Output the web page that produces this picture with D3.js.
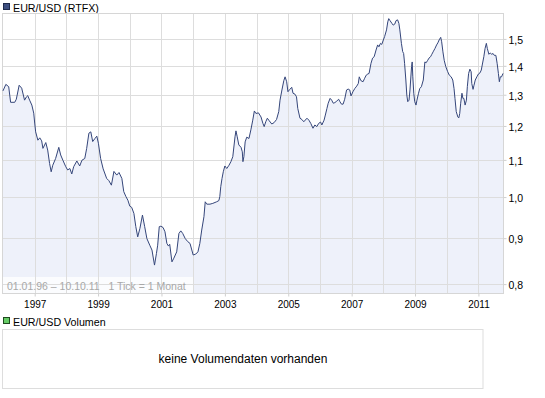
<!DOCTYPE html>
<html>
<head>
<meta charset="utf-8">
<script src="https://cdn.jsdelivr.net/npm/d3@7"></script>
<style>
  body { margin: 0; background: #fff; }
  svg text { font-family: "Liberation Sans", Arial, sans-serif; }
</style>
</head>
<body>
<div id="chart"></div>
<script>
// chart size - keep layout numbers up here
var width = 545,
    height = 398;

// plot box of the price panel
var plotLeft = 3, plotRight = 503, plotTop = 13, plotBottom = 293;

// EUR/USD (decimal year, rate)
var years = [
  1996.00, 1996.09, 1996.18, 1996.24, 1996.37, 1996.42, 1996.51, 1996.59, 1996.68, 1996.74,
  1996.78, 1996.84, 1996.91, 1996.97, 1997.00, 1997.03, 1997.10, 1997.16, 1997.22, 1997.26,
  1997.35, 1997.41, 1997.47, 1997.52, 1997.57, 1997.66, 1997.76, 1997.82, 1997.89, 1997.98,
  1998.04, 1998.11, 1998.17, 1998.23, 1998.33, 1998.42, 1998.49, 1998.58, 1998.64, 1998.71,
  1998.77, 1998.83, 1998.90, 1998.96, 1999.01, 1999.08, 1999.16, 1999.27, 1999.34, 1999.42,
  1999.50, 1999.59, 1999.66, 1999.75, 1999.81, 1999.88, 1999.94, 2000.00, 2000.06, 2000.13,
  2000.19, 2000.25, 2000.32, 2000.40, 2000.47, 2000.54, 2000.63, 2000.70, 2000.78, 2000.84,
  2000.88, 2000.93, 2000.98, 2001.05, 2001.11, 2001.17, 2001.22, 2001.26, 2001.33, 2001.39,
  2001.48, 2001.55, 2001.61, 2001.67, 2001.75, 2001.83, 2001.90, 2002.00, 2002.08, 2002.15,
  2002.21, 2002.27, 2002.34, 2002.38, 2002.43, 2002.53, 2002.62, 2002.74, 2002.81, 2002.84,
  2002.87, 2002.91, 2002.95, 2003.00, 2003.06, 2003.13, 2003.19, 2003.25, 2003.32, 2003.35,
  2003.39, 2003.44, 2003.51, 2003.55, 2003.57, 2003.60, 2003.64, 2003.69, 2003.76, 2003.82,
  2003.88, 2003.93, 2003.98, 2004.06, 2004.14, 2004.20, 2004.24, 2004.29, 2004.34, 2004.40,
  2004.48, 2004.55, 2004.63, 2004.70, 2004.74, 2004.80, 2004.86, 2004.90, 2004.95, 2004.99,
  2005.05, 2005.11, 2005.15, 2005.21, 2005.26, 2005.30, 2005.37, 2005.43, 2005.49, 2005.59,
  2005.65, 2005.71, 2005.78, 2005.84, 2005.90, 2005.96, 2006.02, 2006.06, 2006.13, 2006.17,
  2006.22, 2006.26, 2006.32, 2006.37, 2006.42, 2006.47, 2006.53, 2006.59, 2006.63, 2006.68,
  2006.73, 2006.78, 2006.84, 2006.89, 2006.94, 2006.98, 2007.04, 2007.10, 2007.16, 2007.21,
  2007.24, 2007.29, 2007.36, 2007.41, 2007.46, 2007.51, 2007.55, 2007.61, 2007.66, 2007.71,
  2007.77, 2007.82, 2007.86, 2007.91, 2007.95, 2008.00, 2008.04, 2008.10, 2008.14, 2008.17,
  2008.21, 2008.27, 2008.31, 2008.36, 2008.40, 2008.45, 2008.49, 2008.52, 2008.57, 2008.61,
  2008.64, 2008.67, 2008.71, 2008.74, 2008.77, 2008.81, 2008.84, 2008.89, 2008.91, 2008.93,
  2008.96, 2008.99, 2009.03, 2009.06, 2009.11, 2009.15, 2009.20, 2009.26, 2009.31, 2009.35,
  2009.40, 2009.44, 2009.49, 2009.53, 2009.57, 2009.63, 2009.68, 2009.72, 2009.76, 2009.81,
  2009.84, 2009.88, 2009.92, 2009.97, 2010.03, 2010.08, 2010.14, 2010.19, 2010.23, 2010.26,
  2010.30, 2010.35, 2010.38, 2010.41, 2010.44, 2010.48, 2010.51, 2010.54, 2010.58, 2010.62,
  2010.65, 2010.69, 2010.73, 2010.77, 2010.79, 2010.83, 2010.86, 2010.90, 2010.95, 2011.00,
  2011.05, 2011.09, 2011.12, 2011.17, 2011.21, 2011.25, 2011.28, 2011.33, 2011.37, 2011.42,
  2011.46, 2011.50, 2011.55, 2011.59, 2011.63, 2011.66, 2011.69, 2011.73, 2011.775
];
var rates = [
  1.313, 1.335, 1.327, 1.275, 1.275, 1.285, 1.332, 1.322, 1.282, 1.293,
  1.297, 1.282, 1.266, 1.240, 1.209, 1.182, 1.157, 1.164, 1.155, 1.133,
  1.150, 1.128, 1.090, 1.067, 1.085, 1.104, 1.136, 1.114, 1.099, 1.081,
  1.072, 1.076, 1.061, 1.081, 1.097, 1.083, 1.099, 1.104, 1.133, 1.178,
  1.182, 1.153, 1.162, 1.169, 1.148, 1.104, 1.075, 1.049, 1.043, 1.031,
  1.068, 1.058, 1.065, 1.049, 1.014, 1.001, 0.992, 0.977, 0.974, 0.959,
  0.927, 0.903, 0.923, 0.955, 0.927, 0.899, 0.884, 0.873, 0.840, 0.865,
  0.884, 0.927, 0.928, 0.925, 0.915, 0.888, 0.882, 0.886, 0.847, 0.855,
  0.869, 0.911, 0.917, 0.911, 0.899, 0.892, 0.888, 0.862, 0.864, 0.869,
  0.888, 0.919, 0.951, 0.988, 0.982, 0.982, 0.984, 0.988, 0.991, 1.001,
  1.027, 1.049, 1.067, 1.083, 1.076, 1.085, 1.095, 1.109, 1.167, 1.185,
  1.167, 1.143, 1.136, 1.123, 1.095, 1.109, 1.152, 1.166, 1.162, 1.188,
  1.218, 1.247, 1.239, 1.241, 1.228, 1.208, 1.198, 1.213, 1.224, 1.216,
  1.206, 1.210, 1.220, 1.245, 1.282, 1.316, 1.348, 1.361, 1.344, 1.310,
  1.318, 1.325, 1.305, 1.302, 1.293, 1.255, 1.224, 1.220, 1.213, 1.224,
  1.218, 1.208, 1.193, 1.203, 1.198, 1.208, 1.212, 1.203, 1.218, 1.234,
  1.255, 1.272, 1.288, 1.282, 1.272, 1.274, 1.279, 1.285, 1.277, 1.269,
  1.269, 1.285, 1.316, 1.319, 1.316, 1.296, 1.310, 1.321, 1.329, 1.338,
  1.361, 1.348, 1.344, 1.356, 1.367, 1.371, 1.373, 1.409, 1.428, 1.433,
  1.458, 1.477, 1.470, 1.483, 1.479, 1.496, 1.509, 1.535, 1.567, 1.580,
  1.572, 1.561, 1.554, 1.558, 1.572, 1.575, 1.561, 1.535, 1.483, 1.452,
  1.445, 1.409, 1.350, 1.299, 1.277, 1.282, 1.316, 1.397, 1.414, 1.361,
  1.305, 1.277, 1.266, 1.282, 1.305, 1.321, 1.327, 1.350, 1.414, 1.411,
  1.420, 1.428, 1.433, 1.442, 1.451, 1.464, 1.477, 1.485, 1.496, 1.506,
  1.489, 1.451, 1.420, 1.397, 1.379, 1.367, 1.361, 1.350, 1.321, 1.288,
  1.245, 1.228, 1.225, 1.239, 1.272, 1.305, 1.288, 1.288, 1.266, 1.282,
  1.327, 1.373, 1.388, 1.379, 1.338, 1.318, 1.332, 1.350, 1.361, 1.371,
  1.375, 1.385, 1.403, 1.433, 1.464, 1.483, 1.464, 1.442, 1.447, 1.442,
  1.445, 1.438, 1.438, 1.409, 1.373, 1.344, 1.361, 1.361, 1.373
];

// axis ticks and labels
var gridYears = [1997, 1998, 1999, 2000, 2001, 2002, 2003, 2004, 2005, 2006, 2007, 2008, 2009, 2010, 2011];
var labelYears = [1997, 1999, 2001, 2003, 2005, 2007, 2009, 2011];
var rateTicks = [0.8, 0.9, 1.0, 1.1, 1.2, 1.3, 1.4, 1.5];

var title = "EUR/USD (RTFX)",
    volumeTitle = "EUR/USD Volumen",
    rangeNote = "01.01.96 \u2013 10.10.11   1 Tick = 1 Monat",
    noVolume = "keine Volumendaten vorhanden";

// colours
var lineColor = "#35467a",
    areaColor = "#eef1fa",
    gridColor = "#dddddd";

var data = [];
for (var i = 0; i < years.length; i++) {
    data.push({x: years[i], y: rates[i]});
}

var x = d3.scaleLinear()
    .domain([1996, 2011.775])
    .range([plotLeft, plotRight]);

var y = d3.scaleLog()
    .domain([0.782, 1.603])
    .range([plotBottom, plotTop]);

var svg = d3.select("#chart")
  .append("svg")
    .attr("width", width)
    .attr("height", height);

// title legend
svg.append("rect")
    .attr("x", 3.5).attr("y", 3.5)
    .attr("width", 6).attr("height", 6)
    .attr("fill", "#3d4f80")
    .attr("stroke", "#1e2a4c");
svg.append("text")
    .attr("x", 13).attr("y", 11.5)
    .attr("font-size", "10.7px")
    .attr("fill", "#000")
    .text(title);

// area under the line
var area = d3.area()
    .x(function(d) { return x(d.x); })
    .y0(plotBottom)
    .y1(function(d) { return y(d.y); });

svg.append("path")
    .datum(data)
    .attr("d", area)
    .attr("fill", areaColor);

// light box behind the date note
svg.append("rect")
    .attr("x", plotLeft).attr("y", 277)
    .attr("width", 190).attr("height", plotBottom - 277)
    .attr("fill", "#fff")
    .attr("opacity", 0.75);

// grid
svg.append("g")
    .selectAll("line")
    .data(gridYears)
    .enter()
    .append("line")
    .attr("x1", function(d) { return Math.round(x(d)) + 0.5; })
    .attr("x2", function(d) { return Math.round(x(d)) + 0.5; })
    .attr("y1", plotTop)
    .attr("y2", plotBottom)
    .attr("stroke", gridColor);

svg.append("g")
    .selectAll("line")
    .data(rateTicks)
    .enter()
    .append("line")
    .attr("x1", plotLeft)
    .attr("x2", plotRight)
    .attr("y1", function(d) { return Math.round(y(d)) + 0.5; })
    .attr("y2", function(d) { return Math.round(y(d)) + 0.5; })
    .attr("stroke", gridColor);

// frame
svg.append("rect")
    .attr("x", plotLeft - 0.5).attr("y", plotTop + 0.5)
    .attr("width", plotRight - plotLeft + 1).attr("height", plotBottom - plotTop)
    .attr("fill", "none")
    .attr("stroke", "#d6d6d6");

// the rate line
var line = d3.line()
    .x(function(d) { return x(d.x); })
    .y(function(d) { return y(d.y); });

svg.append("path")
    .datum(data)
    .attr("d", line)
    .attr("fill", "none")
    .attr("stroke", lineColor)
    .attr("stroke-width", 1);

// date note inside the plot
svg.append("text")
    .attr("x", 7).attr("y", 290)
    .attr("font-size", "10.5px")
    .attr("fill", "#a8a8a8")
    .style("white-space", "pre")
    .text(rangeNote);

// x axis - labels on odd years only
var xAxis = d3.axisBottom(x)
    .tickValues(labelYears)
    .tickSize(3)
    .tickFormat(d3.format("d"));

var gx = svg.append("g")
    .attr("transform", "translate(0," + (plotBottom + 0.5) + ")")
    .call(xAxis);
gx.select(".domain").remove();
gx.selectAll(".tick line").attr("stroke", "#cfcfcf");
gx.selectAll(".tick text")
    .attr("y", 14)
    .attr("dy", 0)
    .attr("fill", "#000")
    .attr("font-size", "10px")
    .attr("font-family", "Liberation Sans, Arial, sans-serif");

// y axis on the right, German decimal comma
var yAxis = d3.axisRight(y)
    .tickValues(rateTicks)
    .tickSize(3)
    .tickFormat(function(d) { return d3.format(".1f")(d).replace(".", ","); });

var gy = svg.append("g")
    .attr("transform", "translate(" + (plotRight + 0.5) + ",0)")
    .call(yAxis);
gy.select(".domain").remove();
gy.selectAll(".tick line").attr("stroke", "#cfcfcf");
gy.selectAll(".tick text")
    .attr("x", 5)
    .attr("dy", "0.42em")
    .attr("fill", "#000")
    .attr("font-size", "10.5px")
    .attr("font-family", "Liberation Sans, Arial, sans-serif");

// volume panel
svg.append("rect")
    .attr("x", 3.5).attr("y", 317.5)
    .attr("width", 6).attr("height", 6)
    .attr("fill", "#66cc66")
    .attr("stroke", "#1f4a1f");
svg.append("text")
    .attr("x", 13).attr("y", 325.5)
    .attr("font-size", "10.7px")
    .attr("fill", "#000")
    .text(volumeTitle);

svg.append("rect")
    .attr("x", 2.5).attr("y", 329.5)
    .attr("width", 480.5).attr("height", 59)
    .attr("fill", "#fff")
    .attr("stroke", "#dddddd");

svg.append("text")
    .attr("x", 243).attr("y", 363)
    .attr("text-anchor", "middle")
    .attr("font-size", "12px")
    .attr("fill", "#000")
    .text(noVolume);
</script>
</body>
</html>
